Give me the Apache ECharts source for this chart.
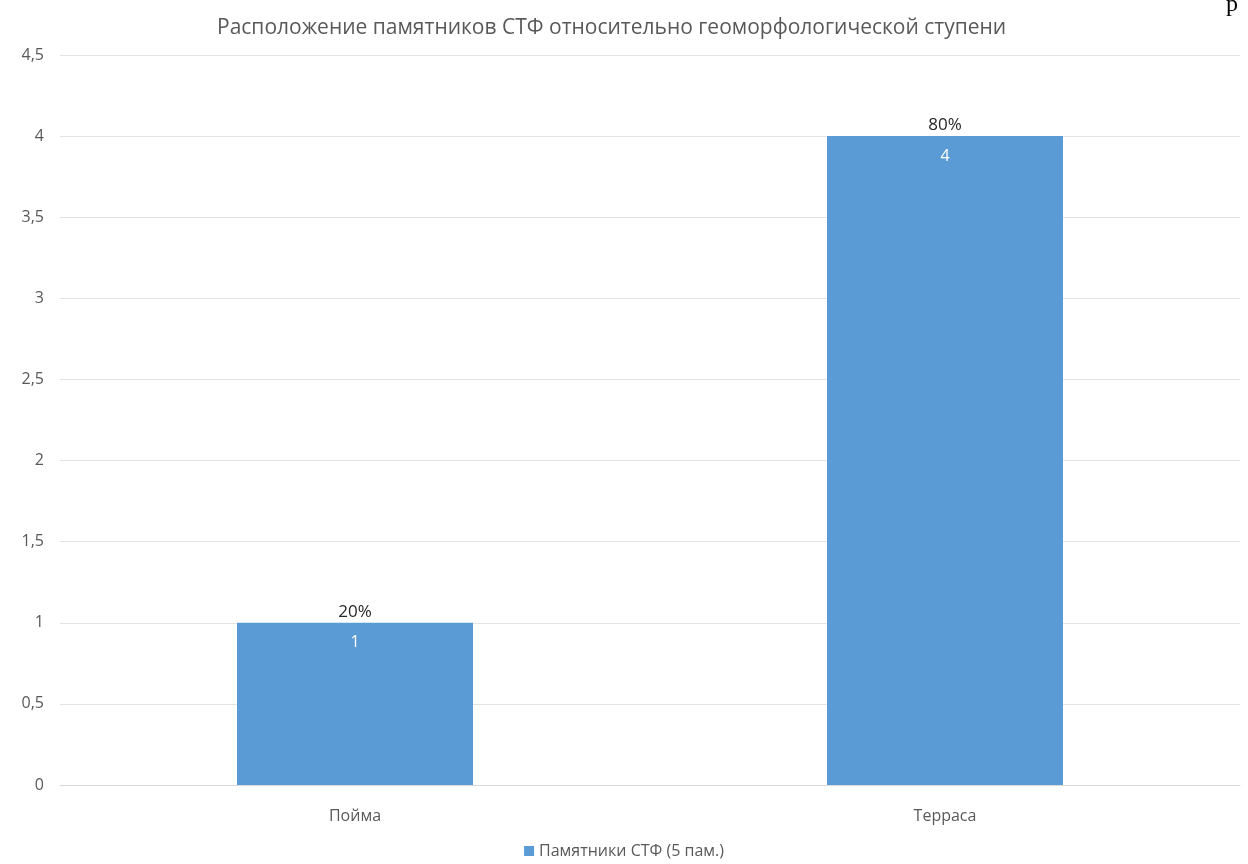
<!DOCTYPE html>
<html>
<head>
<meta charset="utf-8">
<script src="https://cdn.jsdelivr.net/npm/echarts@6/dist/echarts.min.js"></script>
<style>
  html, body { margin: 0; padding: 0; background: #fff; }
  #chart { width: 1248px; height: 864px; }
</style>
</head>
<body>
<div id="chart"></div>
<script>
const categories = ['Пойма', 'Терраса'];
const values = [1, 4];
const percentLabels = ['20%', '80%'];
const seriesName = 'Памятники СТФ (5 пам.)';

const font = '"Open Sans", sans-serif';
const chart = echarts.init(document.getElementById('chart'));

chart.setOption({
    animation: false,
    title: {
        text: 'Расположение памятников СТФ относительно геоморфологической ступени',
        left: 212,
        top: 13,
        textStyle: { fontFamily: font, fontSize: 21, fontWeight: 'normal', color: '#595959' }
    },
    graphic: [{
        type: 'text',
        left: 1226,
        top: -7,
        style: { text: 'р', font: '24px "Liberation Serif", serif', fill: '#000' }
    }],
    legend: {
        data: [seriesName],
        bottom: 0,
        left: 'center',
        itemWidth: 10,
        itemHeight: 10,
        itemGap: 6,
        icon: 'rect',
        textStyle: { fontFamily: font, fontSize: 16, color: '#595959' }
    },
    grid: { left: 60, right: 8, top: 55, bottom: 79, containLabel: false },
    xAxis: {
        type: 'category',
        data: categories,
        axisLine: { lineStyle: { color: '#d9d9d9' } },
        axisTick: { show: false },
        axisLabel: { fontFamily: font, fontSize: 16, color: '#595959', margin: 23 }
    },
    yAxis: {
        type: 'value',
        min: 0,
        max: 4.5,
        interval: 0.5,
        axisLine: { show: false },
        axisTick: { show: false },
        splitLine: { lineStyle: { color: '#e3e3e3' } },
        axisLabel: {
            fontFamily: font, fontSize: 16, color: '#595959', margin: 16,
            formatter: v => String(v).replace('.', ',')
        }
    },
    series: [{
        name: seriesName,
        type: 'bar',
        data: values,
        barWidth: '40%',
        barGap: '-100%',
        itemStyle: { color: '#5b9bd5' },
        label: {
            show: true,
            position: 'insideTop',
            distance: 12,
            fontFamily: font,
            fontSize: 16,
            color: '#ffffff'
        },
        z: 2
    }, {
        name: 'pct',
        type: 'bar',
        data: values,
        barWidth: '40%',
        barGap: '-100%',
        silent: true,
        itemStyle: { color: 'rgba(0,0,0,0)' },
        label: {
            show: true,
            position: 'top',
            distance: 2,
            fontFamily: font,
            fontSize: 17,
            color: '#262626',
            formatter: p => percentLabels[p.dataIndex]
        },
        z: 3
    }]
});
</script>
</body>
</html>
